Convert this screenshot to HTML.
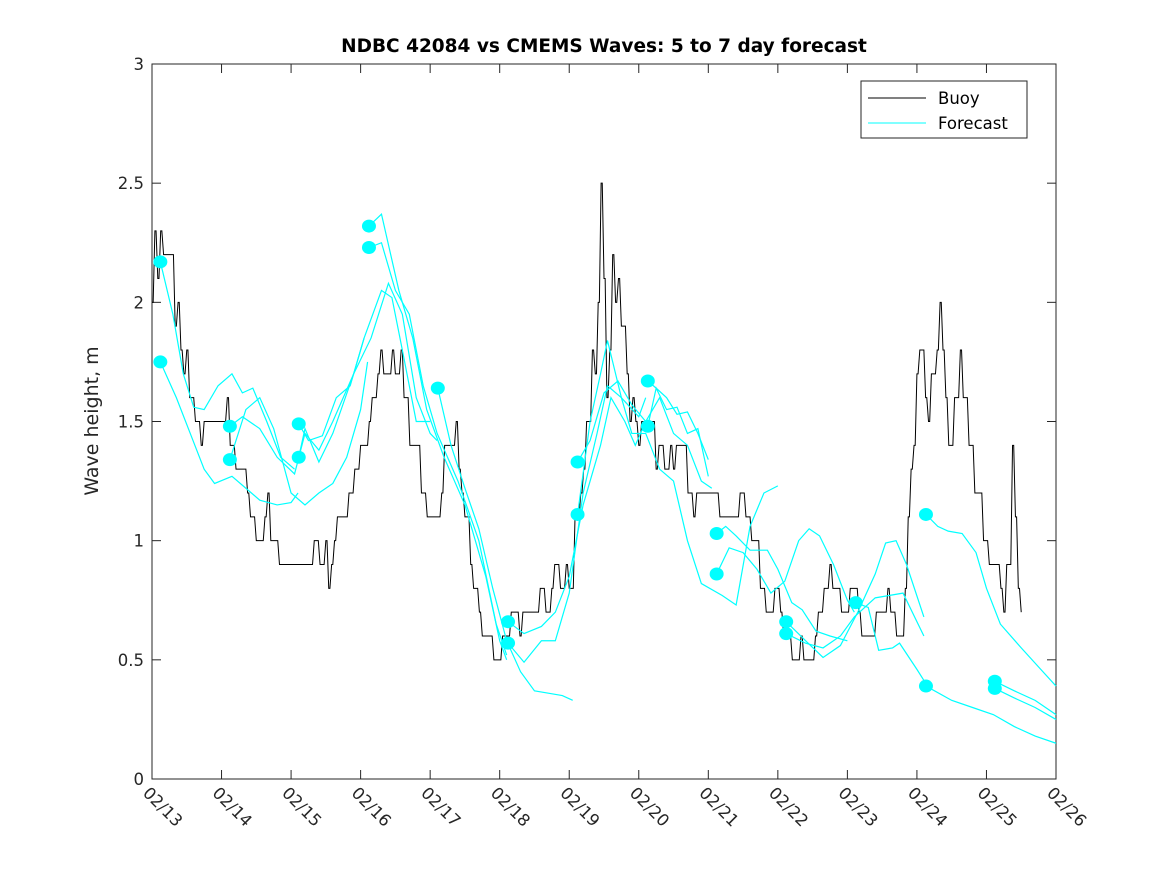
<!DOCTYPE html>
<html><head><meta charset="utf-8"><style>
body{margin:0;background:#fff;}
svg{display:block;font-family:"DejaVu Sans","Liberation Sans",sans-serif;}
</style></head><body>
<svg id="chart" width="1167" height="875" viewBox="0 0 1167 875">
<rect x="0" y="0" width="1167" height="875" fill="#fff"/>
<text x="604" y="52" text-anchor="middle" font-weight="bold" font-size="18.5">NDBC 42084 vs CMEMS Waves: 5 to 7 day forecast</text>
<text transform="translate(98,421) rotate(-90)" text-anchor="middle" font-size="19" fill="#262626">Wave height, m</text>
<g id="axes"></g>
<g id="plot"></g>
<g id="legend">
<rect x="861" y="81" width="166" height="57" fill="#fff" stroke="#262626" stroke-width="1"/>
<line x1="868" y1="98" x2="926" y2="98" stroke="#000" stroke-width="1"/>
<text x="938" y="104" font-size="16.5" fill="#000">Buoy</text>
<line x1="868" y1="123" x2="926" y2="123" stroke="#0ff" stroke-width="1"/>
<text x="938" y="129" font-size="16.5" fill="#000">Forecast</text>
</g>
</svg>
<script>
const xTickLabels = ["02/13","02/14","02/15","02/16","02/17","02/18","02/19","02/20","02/21","02/22","02/23","02/24","02/25","02/26"];
const yTicks = [0,0.5,1,1.5,2,2.5,3];
const yTickLabels = ["0","0.5","1","1.5","2","2.5","3"];
// buoy: [hours since 02/13 00:00, wave height m]
const buoy = [[0,2.0],[1,2.3],[2,2.1],[3,2.3],[4,2.2],[8,1.9],[9,2.0],[10,1.8],[11,1.7],[12,1.8],[13,1.6],[15,1.5],[17,1.4],[18,1.5],[26,1.6],[27,1.4],[29,1.3],[33,1.2],[34,1.1],[36,1.0],[39,1.1],[40,1.2],[41,1.0],[44,0.9],[56,1.0],[58,0.9],[60,1.0],[61,0.8],[62,0.9],[63,1.0],[64,1.1],[68,1.2],[70,1.3],[72,1.4],[75,1.5],[76,1.6],[78,1.7],[79,1.8],[80,1.7],[83,1.8],[84,1.7],[86,1.8],[87,1.6],[89,1.4],[93,1.2],[95,1.1],[100,1.2],[101,1.4],[105,1.5],[106,1.3],[107,1.2],[108,1.1],[110,0.9],[111,0.8],[113,0.7],[114,0.6],[116,0.6],[118,0.5],[121,0.6],[124,0.7],[127,0.6],[128,0.7],[130,0.7],[134,0.8],[136,0.7],[138,0.8],[139,0.9],[141,0.8],[143,0.9],[144,0.8],[146,1.1],[148,1.2],[149,1.3],[150,1.5],[152,1.8],[153,1.7],[154,2.0],[155,2.5],[156,2.1],[157,1.6],[158,1.8],[159,2.2],[160,2.0],[161,2.1],[162,1.9],[164,1.7],[165,1.5],[166,1.6],[167,1.5],[168,1.4],[169,1.5],[174,1.3],[175,1.4],[177,1.3],[179,1.4],[180,1.3],[181,1.4],[185,1.2],[187,1.1],[188,1.2],[196,1.1],[203,1.2],[205,1.1],[207,1.0],[210,0.8],[212,0.7],[215,0.8],[217,0.7],[218,0.6],[221,0.5],[224,0.6],[225,0.5],[229,0.6],[230,0.7],[232,0.8],[234,0.9],[235,0.8],[238,0.7],[241,0.8],[244,0.7],[245,0.6],[250,0.7],[254,0.8],[255,0.7],[257,0.6],[260,0.8],[261,1.1],[262,1.3],[263,1.4],[264,1.7],[265,1.8],[267,1.6],[268,1.5],[269,1.7],[271,1.8],[272,2.0],[273,1.8],[274,1.6],[275,1.4],[277,1.6],[279,1.8],[280,1.6],[282,1.4],[284,1.2],[287,1.0],[289,0.9],[293,0.8],[294,0.7],[295,0.9],[297,1.4],[298,1.1],[299,0.8],[300,0.7]];
// forecasts: each [day since 02/13, wave height m]; first point drawn as a dot
const forecasts = [
 [[0.12,2.17],[0.3,1.95],[0.45,1.7],[0.6,1.56],[0.75,1.55],[0.95,1.65],[1.15,1.7],[1.3,1.62],[1.45,1.64],[1.65,1.5],[1.85,1.35],[2.05,1.3]],
 [[0.12,1.75],[0.35,1.6],[0.55,1.45],[0.75,1.3],[0.9,1.24],[1.15,1.27],[1.35,1.22],[1.55,1.17],[1.8,1.15],[2.0,1.16],[2.1,1.2]],
 [[1.12,1.48],[1.3,1.52],[1.55,1.47],[1.8,1.35],[2.05,1.28],[2.2,1.45],[2.4,1.38],[2.6,1.5],[2.9,1.7],[3.05,1.85]],
 [[1.12,1.34],[1.35,1.55],[1.55,1.6],[1.75,1.47],[2.0,1.2],[2.2,1.15],[2.4,1.2],[2.6,1.24],[2.8,1.35],[3.0,1.55],[3.1,1.75]],
 [[2.11,1.49],[2.25,1.42],[2.45,1.44],[2.65,1.6],[2.85,1.65],[3.05,1.85],[3.3,2.05],[3.45,2.02],[3.6,1.8],[3.8,1.5],[4.0,1.5]],
 [[2.11,1.35],[2.2,1.47],[2.4,1.33],[2.6,1.45],[2.9,1.7],[3.15,1.85],[3.4,2.08],[3.6,1.95],[3.8,1.6],[4.0,1.45],[4.1,1.42]],
 [[3.12,2.32],[3.3,2.37],[3.55,2.05],[3.75,1.85],[3.95,1.55],[4.2,1.35],[4.5,1.15],[4.8,0.85],[5.0,0.58],[5.1,0.5]],
 [[3.12,2.23],[3.3,2.25],[3.5,2.05],[3.7,1.95],[3.9,1.65],[4.1,1.45],[4.4,1.25],[4.7,1.0],[4.95,0.65],[5.1,0.52]],
 [[4.11,1.64],[4.3,1.4],[4.5,1.22],[4.7,1.05],[4.9,0.8],[5.1,0.58],[5.3,0.45],[5.5,0.37],[5.7,0.36],[5.9,0.35],[6.05,0.33]],
 [[5.12,0.66],[5.35,0.61],[5.6,0.64],[5.8,0.7],[6.0,0.85],[6.2,1.15],[6.45,1.4],[6.6,1.6],[6.8,1.5],[6.95,1.4],[7.1,1.5]],
 [[5.12,0.57],[5.35,0.49],[5.6,0.58],[5.8,0.58],[6.0,0.78],[6.2,1.2],[6.4,1.45],[6.55,1.65],[6.75,1.6],[7.0,1.52],[7.1,1.6]],
 [[6.12,1.33],[6.3,1.42],[6.5,1.62],[6.7,1.67],[6.9,1.57],[7.1,1.5],[7.3,1.6],[7.5,1.45],[7.7,1.4],[7.9,1.25],[8.05,1.22]],
 [[6.12,1.11],[6.3,1.5],[6.45,1.7],[6.55,1.84],[6.75,1.6],[6.9,1.45],[7.1,1.45],[7.3,1.3],[7.5,1.25],[7.7,1.0],[7.9,0.82],[8.2,0.77],[8.4,0.73],[8.6,1.06],[8.8,1.2],[9.0,1.23]],
 [[7.13,1.67],[7.25,1.64],[7.4,1.6],[7.55,1.53],[7.7,1.54],[7.85,1.45],[8.0,1.34]],
 [[7.13,1.48],[7.25,1.64],[7.4,1.55],[7.55,1.56],[7.7,1.45],[7.85,1.47],[8.0,1.27]],
 [[8.12,1.03],[8.25,1.06],[8.4,1.02],[8.6,0.96],[8.85,0.96],[9.0,0.88],[9.2,0.74],[9.35,0.71],[9.55,0.62],[9.75,0.6],[10.0,0.58]],
 [[8.12,0.86],[8.3,0.97],[8.5,0.95],[8.7,0.88],[8.9,0.78],[9.1,0.83],[9.3,1.0],[9.45,1.05],[9.6,1.02],[9.8,0.9],[10.0,0.75],[10.1,0.7]],
 [[9.12,0.66],[9.4,0.58],[9.65,0.51],[9.9,0.56],[10.15,0.7],[10.4,0.86],[10.55,0.99],[10.7,1.0],[10.85,0.9],[11.1,0.68]],
 [[9.12,0.61],[9.4,0.57],[9.65,0.55],[9.9,0.6],[10.1,0.68],[10.4,0.76],[10.6,0.77],[10.8,0.78],[11.1,0.6]],
 [[10.12,0.74],[10.3,0.72],[10.45,0.54],[10.65,0.55],[10.75,0.57],[11.0,0.46],[11.13,0.4]],
 [[11.13,1.11],[11.3,1.06],[11.45,1.04],[11.65,1.03],[11.85,0.95],[12.0,0.8],[12.2,0.65],[12.5,0.55],[12.75,0.47],[13.0,0.39]],
 [[11.13,0.39],[11.5,0.33],[11.8,0.3],[12.1,0.27],[12.4,0.22],[12.7,0.18],[13.0,0.15]],
 [[12.12,0.41],[12.4,0.37],[12.7,0.33],[13.0,0.27]],
 [[12.12,0.38],[12.4,0.34],[12.7,0.3],[13.0,0.25]]
];
const NS="http://www.w3.org/2000/svg";
const L=152,R=1056,T=64,B=779;
const xDays=13, yMax=3;
function xS(d){return L+(R-L)*d/xDays;}
function yS(v){return B-(B-T)*v/yMax;}
function mk(tag,attrs,parent){const e=document.createElementNS(NS,tag);for(const k in attrs)e.setAttribute(k,attrs[k]);parent.appendChild(e);return e;}
const axes=document.getElementById('axes'), plot=document.getElementById('plot');
let box=mk('rect',{x:L,y:T,width:R-L,height:B-T,fill:'none',stroke:'#262626','stroke-width':1},axes);


yTicks.forEach((v,i)=>{
  const y=yS(v);
  let t1=mk('line',{x1:L,y1:y,x2:L+9,y2:y,stroke:'#262626'},axes);
  
  
  let t2=mk('line',{x1:R,y1:y,x2:R-9,y2:y,stroke:'#262626'},axes);
  
  
  let tx=mk('text',{x:L-8,y:y+6,'text-anchor':'end','font-size':'16.5',fill:'#262626'},axes);
  tx.textContent=yTickLabels[i];
  
  
});
xTickLabels.forEach((lab,i)=>{
  const x=xS(i);
  let t1=mk('line',{x1:x,y1:B,x2:x,y2:B-9,stroke:'#262626'},axes);
  
  
  let t2=mk('line',{x1:x,y1:T,x2:x,y2:T+9,stroke:'#262626'},axes);
  
  
  let tx=mk('text',{transform:`translate(${x-10},${B+15}) rotate(45)`,'font-size':'16.5',fill:'#262626'},axes);
  tx.textContent=lab;
  
  
});
// buoy line: hourly samples with short transitions
let d='';
buoy.forEach((p,i)=>{
  const x=xS(p[0]/24), y=yS(p[1]);
  if(i===0) d+=`M${x},${y}`;
  else { const xp=xS((p[0]-0.6)/24); d+=`L${Math.max(xp,xS(buoy[i-1][0]/24))},${yS(buoy[i-1][1])}L${x},${y}`; }
});
let bl=mk('path',{d:d,fill:'none',stroke:'#000','stroke-width':1},plot);


forecasts.forEach(f=>{
  const pd=f.map((p,i)=>(i?'L':'M')+xS(p[0])+','+yS(p[1])).join('');
  let pl=mk('path',{d:pd,fill:'none',stroke:'#0ff','stroke-width':1.2},plot);
  
  
});
forecasts.forEach(f=>{
  let c=mk('ellipse',{cx:xS(f[0][0]),cy:yS(f[0][1]),rx:7,ry:6.5,fill:'#0ff'},plot);
  
  
});
</script>
</body></html>
